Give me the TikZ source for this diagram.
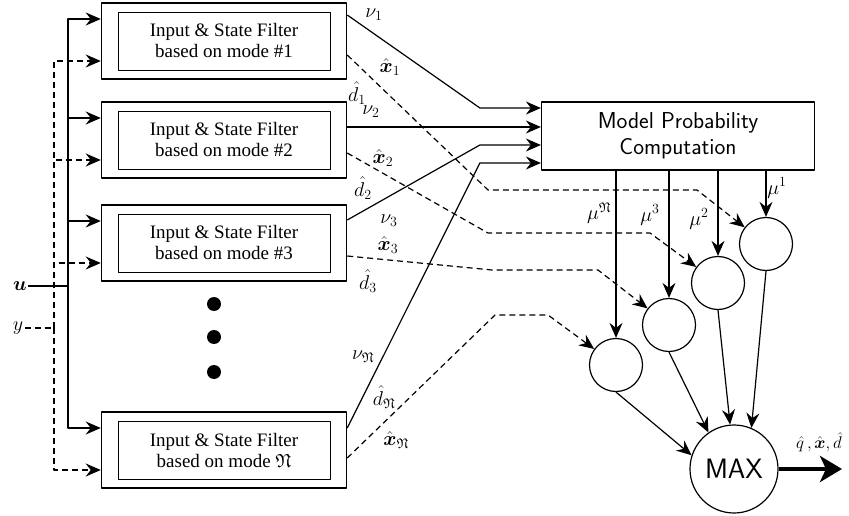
\RequirePackage{fix-cm}
\documentclass[tikz,border=0pt]{standalone}
\usepackage{amsmath,amssymb}
\usepackage{fontspec}
\setmainfont{Liberation Serif}
\usetikzlibrary{arrows.meta}
\begin{document}
\begin{tikzpicture}[x=1pt,y=-1pt,line join=round,line width=1.2pt,>={Stealth[length=15pt,width=13pt,inset=5pt]},
	outer/.style={draw,line width=1.5pt,minimum width=245pt,minimum height=76pt,inner sep=0pt},
	inner/.style={draw,line width=0.9pt,minimum width=212pt,minimum height=58pt,align=center,font=\fontsize{19}{21}\selectfont},
	blob/.style={draw,circle,line width=1.2pt,minimum size=53pt,inner sep=0pt},
	lab/.style={font=\fontsize{20}{22}\selectfont,inner sep=1pt},
	dsh/.style={dash pattern=on 6pt off 4pt}]
	\useasboundingbox (0,0) rectangle (849,516);
	% filter bank
	\foreach \n/\y/\m in {1/41/{\#1},2/140/{\#2},3/243/{\#3},N/450/{$\mathfrak{N}$}}{
		\node[outer] (f\n) at (224,\y) {};
		\node[inner] (g\n) at (f\n) {Input \& State Filter\\based on mode \m};
	}
	\foreach \d in {304,337,372} \fill (214,\d) circle (7pt);
	% inputs
	\node[lab] (u) at (20,286) {$\boldsymbol{u}$};
	\node[lab] (y) at (18,328) {$y$};
	\coordinate (ub) at (68,286);
	\coordinate (yb) at (54,328);
	\draw (u)--(ub);
	\draw[dsh] (y)--(yb);
	\foreach \n in {1,2,3,N}{
		\draw[->] (ub) |- ([yshift=22pt]f\n.west);
		\draw[dsh,->] (yb) |- ([yshift=-20pt]f\n.west);
	}
	% probability block, selectors
	\node[draw,line width=1.2pt,minimum width=273pt,minimum height=68pt,align=center,font=\sffamily\fontsize{23}{26}\selectfont] (mpc) at (678,136) {Model Probability\\Computation};
	\foreach \c/\x/\y in {1/766/244,2/718/283,3/669/325,N/616/365} \node[blob] (c\c) at (\x,\y) {};
	\node[blob,minimum size=88pt,font=\sffamily\fontsize{28}{30}\selectfont] (max) at (734,469) {MAX};
	\foreach \i/\s in {1/28,2/9,3/-9,N/-27} \coordinate (in\i) at ([yshift=\s pt]mpc.west);
	\draw[->] ([yshift=26pt]f1.east)--([xshift=-61pt]in1)--(in1);
	\draw[->] (f2.east |- in2)--(in2);
	\draw[->] ([yshift=23pt]f3.east)--([xshift=-61pt]in3)--(in3);
	\draw[->] ([yshift=22pt]fN.east)--([xshift=-61pt]inN)--(inN);
	\foreach \n/\s/\xa/\ya/\xb in {1/-14/488/190/697,2/-13/488/233/650,3/-13/492/270/598,N/-8/495/315/548}
		\draw[dsh,->] ([yshift=\s pt]f\n.east)--(\xa,\ya)--(\xb,\ya)--(c\n);
	\foreach \n in {1,2,3,N} \draw[->] (c\n |- mpc.south)--(c\n);
	\foreach \n/\a in {N/162,3/125,2/95,1/67} \draw[->] (c\n.south)--(max.\a);
	\coordinate (out) at (842,469);
	\draw[-{Stealth[length=22pt,width=26pt,inset=6pt]},line width=4.5pt] (max)--(out);
	% labels
	\foreach \p/\x/\y/\t in {nu1/374/15/{$\nu_1$},x1/390/67/{$\hat{\boldsymbol{x}}_1$},d1/357/93/{$\hat{d}_1$},
		nu2/371/112/{$\nu_2$},x2/383/158/{$\hat{\boldsymbol{x}}_2$},d2/363/188/{$\hat{d}_2$},
		nu3/389/221/{$\nu_3$},x3/388/245/{$\hat{\boldsymbol{x}}_3$},d3/368/281/{$\hat{d}_3$},
		nuN/363/357/{$\nu_{\mathfrak{N}}$},dN/384/397/{$\hat{d}_{\mathfrak{N}}$},xN/396/440/{$\hat{\boldsymbol{x}}_{\mathfrak{N}}$},
		mu1/777/188/{$\mu^1$},mu2/699/219/{$\mu^2$},mu3/650/215/{$\mu^3$},muN/599/213/{$\mu^{\mathfrak{N}}$}}
		\node[lab] (\p) at (\x,\y) {\t};
	\node[lab,font=\fontsize{17}{19}\selectfont] (est) at (819,442) {$\hat{q}\,,\hat{\boldsymbol{x}},\hat{d}$};
\end{tikzpicture}
\end{document}
